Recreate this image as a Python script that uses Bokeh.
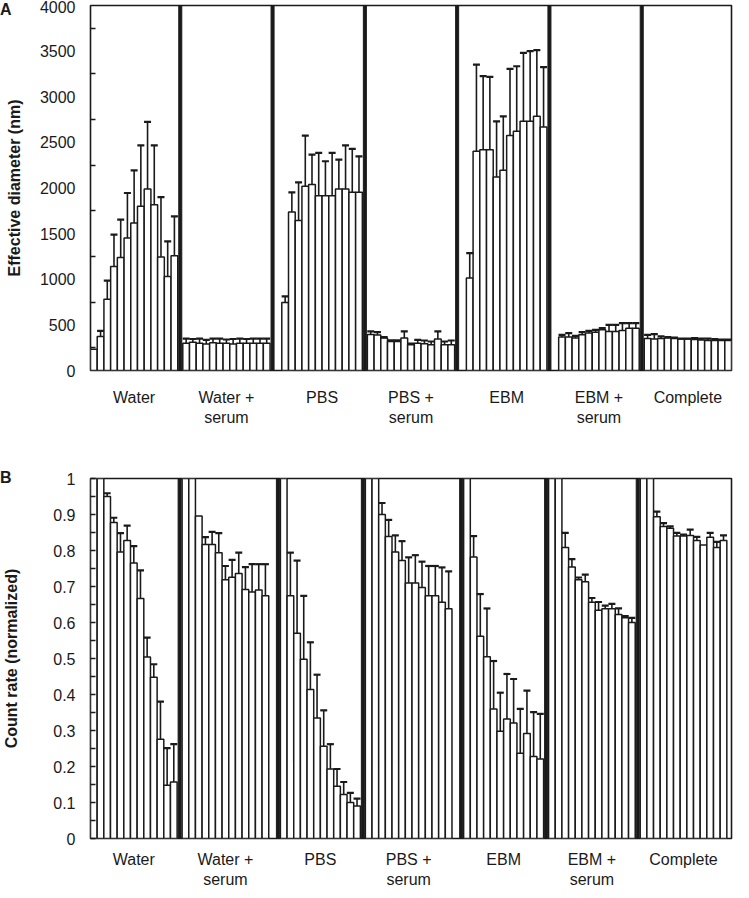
import math
from bokeh.plotting import figure
from bokeh.layouts import column
from bokeh.models import (Range1d, FixedTicker, Whisker, TeeHead, ColumnDataSource,
                          NumeralTickFormatter, Div)
from bokeh.embed import file_html
from bokeh.resources import INLINE

nan = float("nan")

GROUPS = ["Water", "Water +\nserum", "PBS", "PBS +\nserum", "EBM", "EBM +\nserum", "Complete"]

# ---------------- Panel A: effective diameter (nm), bar tops and error-bar tops
A_WATER = [234, 373, 782, 1141, 1239, 1452, 1616, 1799, 1989, 1817, 1243, 1031, 1258]
A_WATER_UP = [234, 435, 984, 1488, 1653, 1945, 2194, 2468, 2724, 2468, 1901, 1415, 1689]
A_WATER_SERUM = [300, 310, 300, 290, 305, 300, 300, 290, 300, 300, 300, 300, 300]
A_WATER_SERUM_UP = [350, 345, 350, 335, 350, 350, 340, 345, 350, 345, 350, 350, 350]
A_PBS = [nan, 746, 1737, 1645, 2018, 2037, 1916, 1916, 1916, 1989, 1989, 1953, 1953]
A_PBS_UP = [nan, 812, 1953, 2062, 2574, 2366, 2384, 2293, 2384, 2311, 2468, 2428, 2347]
A_PBS_SERUM = [395, 390, 355, 318, 318, 355, 282, 300, 293, 282, 344, 282, 282]
A_PBS_SERUM_UP = [428, 420, 365, 330, 330, 428, 295, 336, 329, 318, 428, 318, 329]
A_EBM = [nan, 1013, 2402, 2420, 2420, 2121, 2194, 2574, 2622, 2731, 2731, 2786, 2669]
A_EBM_UP = [nan, 1287, 3353, 3225, 3218, 2731, 2786, 3305, 3334, 3481, 3499, 3510, 3324]
A_EBM_SERUM = [nan, 366, 366, 355, 391, 410, 420, 446, 428, 428, 439, 464, 464]
A_EBM_SERUM_UP = [nan, 391, 410, 380, 420, 435, 446, 464, 501, 501, 519, 519, 519]
A_COMPLETE = [350, 344, 350, 355, 350, 344, 344, 340, 335, 330, 330, 330, 330]
A_COMPLETE_UP = [390, 399, 375, 366, 360, 350, 350, 355, 350, 350, 345, 340, 340]
A_YTICKS = [0, 500, 1000, 1500, 2000, 2500, 3000, 3500, 4000]
A_YMINOR = [250, 750, 1250, 1750, 2250, 2750, 3250, 3750]

# ---------------- Panel B: count rate (normalized)
B_WATER = [1, 1, 0.950, 0.878, 0.796, 0.828, 0.765, 0.667, 0.504, 0.448, 0.276, 0.148, 0.157]
B_WATER_UP = [1, 1, 0.959, 0.891, 0.848, 0.869, 0.812, 0.745, 0.558, 0.484, 0.380, 0.251, 0.262]
B_WATER_SERUM = [1, 1, 0.896, 0.817, 0.817, 0.794, 0.719, 0.726, 0.736, 0.692, 0.685, 0.690, 0.674, nan]
B_WATER_SERUM_UP = [1, 1, 0.896, 0.837, 0.852, 0.848, 0.757, 0.774, 0.794, 0.754, 0.762, 0.762, 0.762, nan]
B_PBS = [1, 0.674, 0.570, 0.498, 0.414, 0.335, 0.256, 0.193, 0.145, 0.122, 0.100, 0.090]
B_PBS_UP = [1, 0.794, 0.772, 0.674, 0.545, 0.455, 0.356, 0.262, 0.193, 0.157, 0.127, 0.111]
B_PBS_SERUM = [1, 1, 0.900, 0.839, 0.796, 0.772, 0.710, 0.710, 0.697, 0.674, 0.674, 0.656, 0.638, nan]
B_PBS_SERUM_UP = [1, 1, 0.932, 0.885, 0.842, 0.826, 0.781, 0.787, 0.769, 0.757, 0.757, 0.753, 0.742, nan]
B_EBM = [1, 0.782, 0.562, 0.505, 0.360, 0.298, 0.332, 0.321, 0.237, 0.292, 0.228, 0.221]
B_EBM_UP = [1, 0.840, 0.679, 0.639, 0.493, 0.405, 0.457, 0.443, 0.360, 0.411, 0.351, 0.346]
B_EBM_SERUM = [1, 1, 0.808, 0.754, 0.719, 0.713, 0.656, 0.634, 0.638, 0.638, 0.622, 0.613, 0.600]
B_EBM_SERUM_UP = [1, 1, 0.849, 0.776, 0.725, 0.733, 0.668, 0.657, 0.647, 0.652, 0.639, 0.618, 0.613]
B_COMPLETE = [1, 1, 0.894, 0.867, 0.862, 0.840, 0.840, 0.842, 0.828, 0.815, 0.837, 0.808, 0.828]
B_COMPLETE_UP = [1, 1, 0.908, 0.876, 0.867, 0.849, 0.844, 0.858, 0.838, 0.815, 0.849, 0.824, 0.842]
B_YTICKS = [0, 0.1, 0.2, 0.3, 0.4, 0.5, 0.6, 0.7, 0.8, 0.9, 1]
B_YMINOR = [0.05, 0.15, 0.25, 0.35, 0.45, 0.55, 0.65, 0.75, 0.85, 0.95]

FONT = "Liberation Sans"
INK = "#1a1a1a"
SEP = 0.75


def build(groups, trailing):
    xs, tops, ex, elo, ehi, seps, centers = [], [], [], [], [], [], []
    pos = 0.0
    for gi, (vals, ups) in enumerate(groups):
        valid = []
        for i, (v, u) in enumerate(zip(vals, ups)):
            if math.isnan(v):
                continue
            x = pos + i + 0.5
            xs.append(x); tops.append(v); valid.append(x)
            if u > v:
                ex.append(x); elo.append(v); ehi.append(u)
        centers.append(round((min(valid) + max(valid)) / 2, 3))
        pos += len(vals)
        if gi < len(groups) - 1:
            seps.append(pos + SEP / 2)
            pos += SEP
    return dict(xs=xs, tops=tops, ex=ex, elo=elo, ehi=ehi, seps=seps,
                centers=centers, total=pos + trailing)


def panel(groups, trailing, ymax, yticks, yminor, ylabel, major_in, fmt,
          height, bl, br, bt, bb, ylab_standoff, xlab_standoff):
    d = build(groups, trailing)
    p = figure(width=740, height=height, x_range=Range1d(0, d["total"]),
               y_range=Range1d(0, ymax), output_backend="svg", toolbar_location=None,
               min_border_left=bl, min_border_right=br, min_border_top=bt,
               min_border_bottom=bb)
    p.grid.visible = False
    p.outline_line_color = INK
    p.outline_line_width = 1.6
    p.background_fill_color = "white"

    # thick group separators
    p.vbar(x=d["seps"], top=ymax, bottom=0, width=SEP * 0.6,
           fill_color=INK, line_color=INK, line_width=1)
    # bars
    p.vbar(x=d["xs"], top=d["tops"], bottom=0, width=1.0,
           fill_color="white", line_color=INK, line_width=1.5)
    # error bars (upper only)
    src = ColumnDataSource(dict(x=d["ex"], lower=d["elo"], upper=d["ehi"]))
    w = Whisker(base="x", lower="lower", upper="upper", source=src, dimension="height",
                line_color=INK, line_width=1.6, lower_head=None,
                upper_head=TeeHead(size=7, line_width=2.2, line_color=INK), level="overlay")
    p.add_layout(w)

    xa = p.xaxis[0]
    xa.ticker = FixedTicker(ticks=d["centers"])
    xa.major_label_overrides = {c: g for c, g in zip(d["centers"], GROUPS)}
    xa.axis_line_color = None
    xa.major_tick_line_color = None
    xa.minor_tick_line_color = None
    xa.major_label_standoff = xlab_standoff
    xa.major_label_text_font = FONT
    xa.major_label_text_font_size = "16px"
    xa.major_label_text_color = INK

    ya = p.yaxis[0]
    ya.ticker = FixedTicker(ticks=yticks, minor_ticks=yminor)
    ya.formatter = NumeralTickFormatter(format=fmt)
    ya.axis_line_color = None
    ya.major_tick_out = 0
    ya.major_tick_in = major_in
    ya.minor_tick_out = 0
    ya.minor_tick_in = 5
    ya.major_tick_line_color = INK
    ya.minor_tick_line_color = INK
    ya.major_tick_line_width = 1.5
    ya.minor_tick_line_width = 1.5
    ya.major_label_standoff = 15
    ya.major_label_text_font = FONT
    ya.major_label_text_font_size = "16px"
    ya.major_label_text_color = INK
    ya.axis_label = ylabel
    ya.axis_label_text_font = FONT
    ya.axis_label_text_font_style = "bold"
    ya.axis_label_text_font_size = "16px"
    ya.axis_label_text_color = INK
    ya.axis_label_standoff = ylab_standoff
    return p


def letter(text, top_px):
    return Div(text=text, width=20, height=0, margin=0,
               styles={"position": "relative", "top": f"{top_px}px", "z-index": "10",
                       "overflow": "visible", "font-family": FONT, "font-size": "16px",
                       "font-weight": "bold", "line-height": "18px", "color": INK})


pA = panel([(A_WATER, A_WATER_UP), (A_WATER_SERUM, A_WATER_SERUM_UP), (A_PBS, A_PBS_UP),
            (A_PBS_SERUM, A_PBS_SERUM_UP), (A_EBM, A_EBM_UP), (A_EBM_SERUM, A_EBM_SERUM_UP),
            (A_COMPLETE, A_COMPLETE_UP)],
           0.0, 4000, A_YTICKS, A_YMINOR, "Effective diameter (nm)", 0, "0",
           height=450, bl=84, br=9, bt=5, bb=80, ylab_standoff=14, xlab_standoff=12)

pB = panel([(B_WATER, B_WATER_UP), (B_WATER_SERUM, B_WATER_SERUM_UP), (B_PBS, B_PBS_UP),
            (B_PBS_SERUM, B_PBS_SERUM_UP), (B_EBM, B_EBM_UP), (B_EBM_SERUM, B_EBM_SERUM_UP),
            (B_COMPLETE, B_COMPLETE_UP)],
           0.7, 1.0, B_YTICKS, B_YMINOR, "Count rate (normalized)", 5, "0.[0]",
           height=440, bl=89, br=1, bt=28, bb=52, ylab_standoff=30, xlab_standoff=6)

layout = column(letter("A", 1), pA, letter("B", 19), pB)
open("out.html", "w").write(file_html(layout, INLINE))
